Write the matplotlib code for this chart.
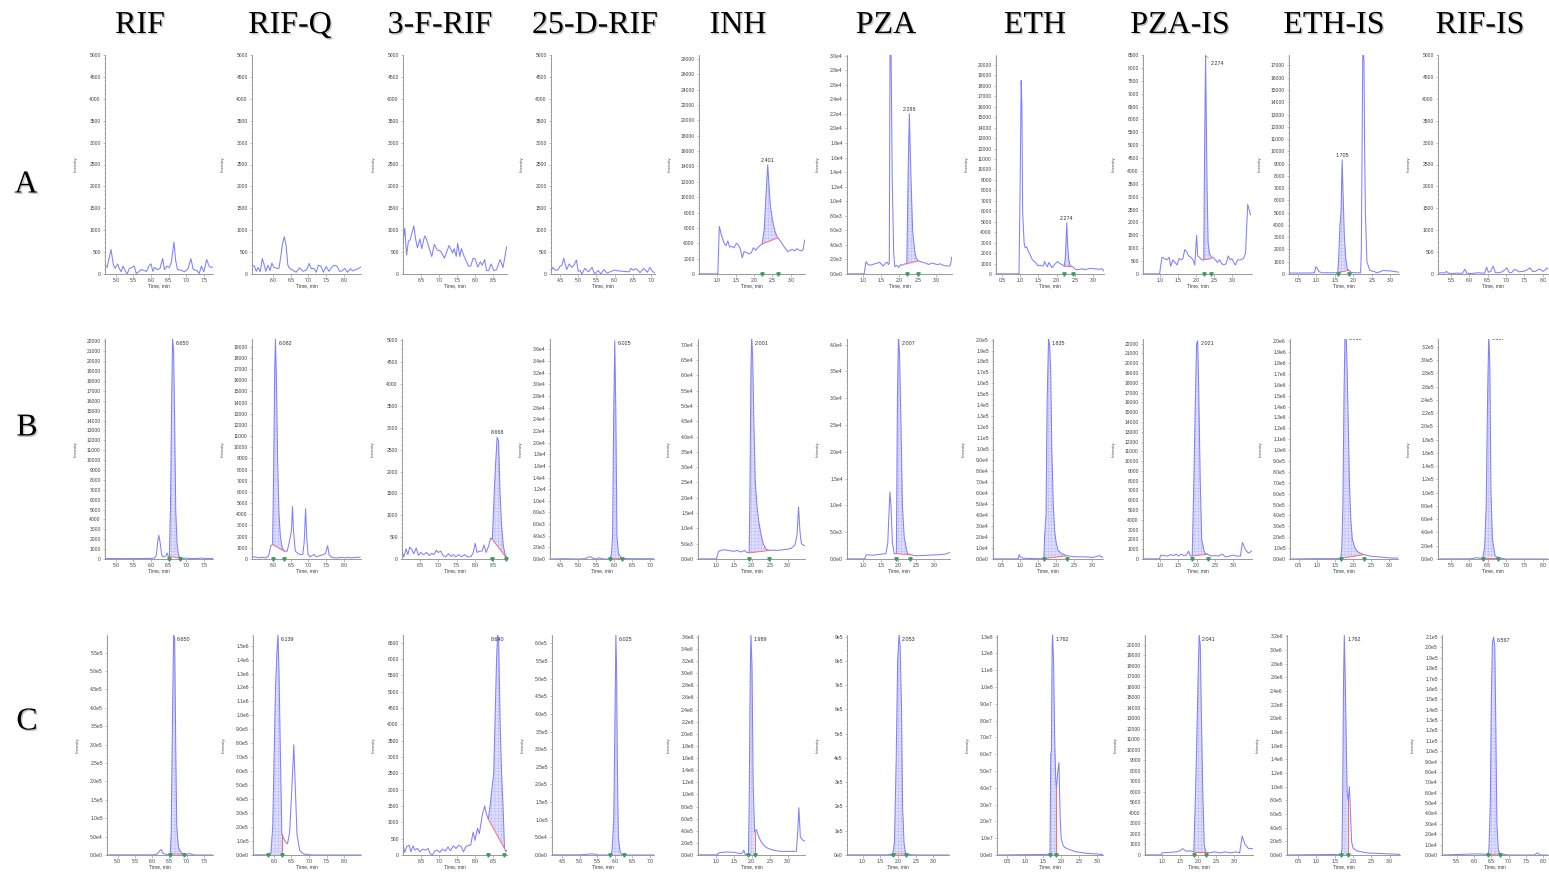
import numpy as np
import matplotlib
matplotlib.use('Agg')
import matplotlib.pyplot as plt
from matplotlib.ticker import FixedLocator, AutoMinorLocator, FuncFormatter
import matplotlib.patheffects as pe

plt.rcParams['font.family'] = ['Liberation Sans', 'DejaVu Sans']
plt.rcParams['hatch.linewidth'] = 0.3

COMPOUNDS = ['RIF', 'RIF-Q', '3-F-RIF', '25-D-RIF', 'INH', 'PZA', 'ETH', 'PZA-IS', 'ETH-IS', 'RIF-IS']
ROW_NAMES = ['A', 'B', 'C']

# ---------------- traces: (time [min], intensity) ----------------
A_RIF = [(4.70,200),(4.75,150),(4.86,560),(4.93,200),(4.98,130),(5.05,230),(5.10,120),(5.15,50),(5.20,180),
         (5.25,100),(5.32,0),(5.38,120),(5.45,150),(5.52,180),(5.58,10),(5.65,50),(5.72,100),(5.80,80),(5.87,60),
         (5.95,200),(6.00,230),(6.05,60),(6.10,150),(6.17,100),(6.25,120),(6.33,350),(6.38,100),(6.45,180),
         (6.52,150),(6.58,280),(6.65,730),(6.70,300),(6.75,100),(6.85,90),(6.95,50),(7.05,120),(7.13,350),
         (7.20,100),(7.30,80),(7.37,10),(7.43,180),(7.50,50),(7.58,330),(7.65,180),(7.70,150),(7.75,160)]
A_RIFQ = [(5.42,200),(5.48,180),(5.53,60),(5.58,150),(5.64,50),(5.70,350),(5.74,250),(5.80,60),(5.86,200),
          (5.92,80),(5.97,250),(6.03,150),(6.10,130),(6.17,130),(6.23,450),(6.27,700),(6.32,850),(6.37,650),
          (6.42,200),(6.47,130),(6.55,90),(6.65,40),(6.75,140),(6.85,60),(6.95,100),(7.02,240),(7.08,120),
          (7.15,130),(7.22,40),(7.28,200),(7.35,180),(7.42,40),(7.50,170),(7.58,60),(7.65,150),(7.72,200),
          (7.80,180),(7.88,60),(7.95,70),(8.02,130),(8.10,40),(8.18,120),(8.25,70),(8.32,100),(8.40,120),(8.47,160)]
A_3FRIF = [(6.00,700),(6.05,1050),(6.10,430),(6.15,750),(6.20,780),(6.30,1100),(6.35,800),(6.40,600),(6.47,800),
           (6.52,580),(6.60,870),(6.65,800),(6.72,600),(6.80,400),(6.87,680),(6.95,550),(7.05,520),(7.15,360),
           (7.28,650),(7.38,480),(7.42,580),(7.48,400),(7.52,700),(7.58,400),(7.62,580),(7.70,400),(7.82,180),
           (7.88,180),(7.95,360),(8.00,350),(8.08,160),(8.15,280),(8.20,200),(8.27,330),(8.32,80),(8.38,80),
           (8.45,230),(8.52,80),(8.60,100),(8.70,330),(8.78,150),(8.88,620)]
A_25DRIF = [(4.26,80),(4.30,150),(4.38,80),(4.45,100),(4.50,180),(4.55,200),(4.60,360),(4.68,100),(4.75,230),
            (4.82,150),(4.88,200),(4.95,320),(5.00,60),(5.05,80),(5.10,0),(5.18,130),(5.28,50),(5.38,150),
            (5.45,0),(5.55,80),(5.62,0),(5.70,100),(5.80,20),(5.90,60),(6.00,90),(6.10,70),(6.40,50),(6.45,130),
            (6.50,90),(6.60,120),(6.70,30),(6.80,130),(6.90,40),(6.97,150),(7.05,50),(7.10,30)]
A_INH = [(0.51,0),(0.95,0),(1.02,0),(1.06,6200),(1.12,5000),(1.19,4000),(1.24,3700),(1.29,4300),(1.34,3500),
         (1.40,3600),(1.46,3400),(1.52,4000),(1.57,3800),(1.63,3300),(1.68,2100),(1.73,2900),(1.80,2800),
         (1.87,2600),(1.93,2800),(1.98,3400),(2.04,3100),(2.10,3400),(2.16,3700),(2.22,3900),(2.28,6000),
         (2.32,10000),(2.37,14200),(2.40,12000),(2.44,9000),(2.50,7000),(2.57,5500),(2.64,4700),(2.70,4400),
         (2.78,3800),(2.85,3300),(2.92,2900),(2.98,3100),(3.04,3200),(3.10,3000),(3.16,3300),(3.22,3100),
         (3.28,3000),(3.33,3200),(3.37,4400)]
A_PZA = [(0.57,0),(1.00,0),(1.03,0),(1.08,1700),(1.14,1300),(1.20,1200),(1.26,1300),(1.32,1400),(1.39,1500),
         (1.46,1600),(1.51,1300),(1.56,1100),(1.61,1500),(1.66,1600),(1.70,1300),(1.72,1500),(1.74,30500),
         (1.77,30000),(1.80,13000),(1.84,3000),(1.87,1000),(1.93,1200),(1.98,900),(2.03,1300),(2.09,1200),
         (2.15,1400),(2.20,1400),(2.24,14800),(2.27,22000),(2.31,14000),(2.36,6000),(2.42,3000),(2.46,2200),
         (2.51,1800),(2.57,1700),(2.64,1600),(2.72,1500),(2.80,1300),(2.88,1500),(2.96,1400),(3.04,1300),
         (3.12,1400),(3.20,1200),(3.28,1100),(3.36,1100),(3.40,1300),(3.43,2300)]
A_ETH = [(0.35,0),(0.97,0),(1.00,8000),(1.03,18500),(1.05,16000),(1.07,6000),(1.11,3000),(1.14,2500),(1.18,2600),
         (1.22,2200),(1.28,1800),(1.33,1400),(1.38,1200),(1.43,1100),(1.48,800),(1.55,850),(1.60,750),(1.64,800),
         (1.67,1200),(1.71,900),(1.75,700),(1.79,1100),(1.83,900),(1.87,600),(1.92,800),(1.97,1000),(2.03,1200),
         (2.09,1000),(2.15,900),(2.21,750),(2.24,1500),(2.26,3200),(2.28,4900),(2.30,3000),(2.33,1500),(2.37,800),
         (2.44,700),(2.50,500),(2.55,400),(2.62,450),(2.70,500),(2.78,400),(2.86,500),(2.94,550),(3.02,500),
         (3.10,480),(3.18,450),(3.25,500),(3.29,300)]
A_PZAIS = [(0.54,0),(0.99,0),(1.02,300),(1.06,650),(1.12,600),(1.19,550),(1.26,650),(1.30,300),(1.36,550),
           (1.42,450),(1.48,350),(1.53,600),(1.58,550),(1.64,600),(1.69,950),(1.75,850),(1.80,700),(1.86,650),
           (1.92,550),(1.97,350),(2.02,1500),(2.05,700),(2.10,650),(2.16,550),(2.22,550),(2.24,4500),(2.27,8500),
           (2.29,6000),(2.31,3500),(2.34,1200),(2.38,800),(2.43,650),(2.48,650),(2.54,550),(2.60,450),(2.66,550),
           (2.72,400),(2.78,350),(2.84,400),(2.90,700),(2.95,550),(3.00,600),(3.05,450),(3.10,350),(3.16,550),
           (3.24,550),(3.32,600),(3.38,800),(3.44,2700),(3.48,2500),(3.52,2300)]
A_ETHIS = [(0.27,80),(0.50,80),(0.80,80),(0.95,100),(0.99,600),(1.03,450),(1.07,200),(1.15,100),(1.30,100),
           (1.45,100),(1.58,100),(1.61,1500),(1.64,4000),(1.67,5000),(1.70,9300),(1.73,6000),(1.76,3000),
           (1.80,1200),(1.84,400),(1.88,300),(1.95,120),(2.05,100),(2.20,100),(2.22,2000),(2.24,10000),
           (2.26,18500),(2.29,17500),(2.31,10000),(2.33,5000),(2.37,1000),(2.45,300),(2.56,200),(2.65,100),
           (2.74,200),(2.82,300),(2.92,250),(3.02,250),(3.12,200),(3.23,150)]
A_RIFIS = [(5.16,20),(5.26,30),(5.33,20),(5.38,60),(5.43,20),(5.55,10),(5.65,20),(5.75,15),(5.82,20),(5.88,110),
           (5.93,20),(6.05,10),(6.15,20),(6.25,30),(6.35,20),(6.42,20),(6.47,160),(6.52,40),(6.58,60),(6.65,180),
           (6.71,30),(6.80,30),(6.90,50),(6.97,100),(7.02,140),(7.08,40),(7.15,30),(7.22,100),(7.29,90),(7.35,50),
           (7.45,60),(7.55,80),(7.65,140),(7.72,60),(7.80,60),(7.87,100),(7.93,110),(8.00,60),(8.06,90),(8.11,140),
           (8.13,120)]

B_RIF = [(4.70,50),(5.00,40),(5.50,40),(5.80,50),(6.00,60),(6.10,100),(6.15,400),(6.19,1800),(6.22,2400),
         (6.26,1600),(6.30,400),(6.35,200),(6.42,300),(6.46,600),(6.49,200),(6.52,250),(6.55,5000),(6.58,14500),
         (6.61,22300),(6.64,21000),(6.67,14000),(6.70,5000),(6.74,1500),(6.78,400),(6.83,100),(6.90,60),
         (7.00,100),(7.10,50),(7.20,40),(7.30,50),(7.42,100),(7.50,60),(7.60,40),(7.75,50)]
B_RIFQ = [(5.42,150),(5.50,200),(5.60,100),(5.70,150),(5.80,100),(5.88,300),(5.94,1200),(5.99,1300),(6.02,8000),
          (6.05,17000),(6.07,19700),(6.10,16000),(6.13,9000),(6.17,4000),(6.21,2000),(6.26,1000),(6.32,700),
          (6.40,700),(6.46,1500),(6.52,2500),(6.55,4700),(6.58,2500),(6.63,700),(6.70,500),(6.78,400),(6.84,400),
          (6.88,1500),(6.92,4500),(6.95,2000),(6.99,400),(7.05,200),(7.10,300),(7.16,400),(7.22,200),(7.32,300),
          (7.42,400),(7.48,500),(7.54,1200),(7.58,400),(7.63,200),(7.72,100),(7.82,100),(7.92,150),(8.02,100),
          (8.12,150),(8.22,100),(8.35,150),(8.45,150)]
B_3FRIF = [(6.02,150),(6.06,50),(6.12,230),(6.17,100),(6.22,270),(6.28,220),(6.33,120),(6.40,250),(6.46,80),
           (6.52,150),(6.60,100),(6.68,150),(6.75,80),(6.82,130),(6.88,100),(6.95,200),(7.00,150),(7.07,180),
           (7.13,80),(7.20,50),(7.28,120),(7.35,60),(7.42,100),(7.48,50),(7.56,100),(7.64,50),(7.72,100),(7.80,50),
           (7.90,60),(7.96,150),(8.01,360),(8.06,150),(8.13,180),(8.20,180),(8.25,320),(8.31,150),(8.38,300),
           (8.43,480),(8.48,450),(8.53,1500),(8.57,2200),(8.61,2780),(8.65,2700),(8.69,1500),(8.73,800),(8.78,300),
           (8.84,50),(8.87,60)]
B_25DRIF = [(4.23,0),(4.60,50),(5.00,0),(5.20,50),(5.28,300),(5.35,400),(5.42,100),(5.50,0),(5.58,200),(5.65,100),
            (5.72,0),(5.89,0),(5.93,1000),(5.96,4000),(5.99,25000),(6.02,37500),(6.05,25000),(6.08,4000),
            (6.12,1000),(6.21,100),(6.40,50),(6.80,50),(7.10,50)]
B_INH = [(0.51,0),(1.00,0),(1.02,0),(1.08,2500),(1.20,3000),(1.30,2900),(1.40,2700),(1.50,2500),(1.60,2800),
         (1.70,2300),(1.80,2800),(1.86,2200),(1.93,2000),(1.95,20000),(1.98,62000),(2.00,73000),(2.03,65000),
         (2.06,45000),(2.10,25000),(2.15,17000),(2.20,12000),(2.26,8000),(2.32,5000),(2.40,3200),(2.49,2800),
         (2.60,2900),(2.70,2800),(2.85,3000),(3.00,3200),(3.10,3500),(3.20,4500),(3.26,8000),(3.30,17000),
         (3.34,9000),(3.38,5000),(3.44,4500),(3.47,4400)]
B_PZA = [(0.57,0),(1.00,0),(1.05,0),(1.10,800),(1.30,700),(1.50,900),(1.65,1000),(1.70,3000),(1.73,8000),
         (1.76,12500),(1.79,10000),(1.83,3000),(1.88,1000),(1.94,1000),(1.97,30000),(2.00,42000),(2.03,38000),
         (2.07,25000),(2.11,10000),(2.16,4000),(2.25,1000),(2.33,800),(2.50,600),(2.80,700),(3.10,800),
         (3.30,900),(3.43,1200)]
B_ETH = [(0.27,0),(0.95,0),(0.98,4000),(1.02,1500),(1.10,700),(1.30,500),(1.50,300),(1.66,300),(1.68,20000),
         (1.72,40000),(1.75,140000),(1.79,201000),(1.82,195000),(1.85,170000),(1.88,100000),(1.92,50000),
         (1.96,25000),(2.00,15000),(2.05,8000),(2.15,5000),(2.30,3000),(2.50,2000),(2.80,2000),(3.00,1500),
         (3.20,3000),(3.28,1500)]
B_PZAIS = [(0.54,0),(0.98,0),(1.02,400),(1.10,350),(1.20,300),(1.30,450),(1.38,350),(1.44,500),(1.50,300),
           (1.58,500),(1.65,350),(1.72,400),(1.78,800),(1.83,300),(1.88,300),(1.92,7000),(1.96,15000),
           (2.00,22000),(2.03,22300),(2.06,17000),(2.10,8000),(2.14,2000),(2.22,600),(2.30,500),(2.40,300),
           (2.50,350),(2.60,300),(2.70,500),(2.80,200),(2.90,300),(3.00,400),(3.10,300),(3.20,300),(3.26,1700),
           (3.33,1000),(3.42,600),(3.51,800)]
B_ETHIS = [(0.27,0),(1.00,3000),(1.50,3000),(1.66,5000),(1.69,100000),(1.72,500000),(1.75,1500000),
           (1.78,2100000),(1.81,2050000),(1.84,1700000),(1.87,1200000),(1.90,700000),(1.94,350000),(1.98,180000),
           (2.05,100000),(2.15,60000),(2.30,40000),(2.50,25000),(2.70,20000),(3.00,10000),(3.23,8000)]
B_RIFIS = [(5.16,0),(6.00,0),(6.20,2000),(6.30,1000),(6.37,2000),(6.42,20000),(6.46,80000),(6.50,250000),
           (6.53,340000),(6.56,290000),(6.59,100000),(6.63,30000),(6.70,5000),(6.78,2000),(7.00,0),(8.13,0)]

C_RIF = [(4.70,0),(6.05,0),(6.15,3000),(6.22,12000),(6.26,15000),(6.31,5000),(6.38,2000),(6.45,1000),(6.52,3000),
         (6.55,60000),(6.59,400000),(6.62,598000),(6.65,590000),(6.68,300000),(6.71,80000),(6.76,20000),
         (6.85,5000),(6.92,2000),(7.00,2000),(7.08,4000),(7.20,0),(7.75,0)]
C_RIFQ = [(5.42,0),(5.85,0),(5.92,20000),(5.97,200000),(6.01,700000),(6.05,1200000),(6.09,1450000),
          (6.12,1580000),(6.15,1300000),(6.19,700000),(6.23,150000),(6.28,120000),(6.34,90000),(6.39,80000),
          (6.45,160000),(6.51,450000),(6.57,790000),(6.61,500000),(6.66,150000),(6.74,30000),(6.85,8000),
          (7.00,2000),(7.15,0),(8.47,0)]
C_3FRIF = [(6.00,300),(6.05,80),(6.10,250),(6.17,300),(6.22,100),(6.28,280),(6.33,150),(6.40,200),(6.47,100),
           (6.55,180),(6.62,150),(6.70,200),(6.75,50),(6.82,0),(6.88,120),(6.95,150),(7.02,80),(7.10,180),
           (7.18,120),(7.25,250),(7.32,130),(7.40,280),(7.47,200),(7.55,300),(7.62,250),(7.68,100),(7.75,250),
           (7.82,300),(7.88,300),(7.95,700),(8.00,450),(8.07,820),(8.12,650),(8.20,1200),(8.27,1500),(8.32,1250),
           (8.37,1100),(8.42,1500),(8.47,2000),(8.52,2500),(8.56,4200),(8.60,6000),(8.63,6800),(8.66,6500),
           (8.70,4000),(8.74,2500),(8.78,1500),(8.82,200),(8.86,100),(8.89,150)]
C_25DRIF = [(4.23,0),(5.00,0),(5.30,3000),(5.40,3000),(5.50,500),(5.60,0),(5.87,0),(5.92,10000),(5.97,100000),
            (6.00,350000),(6.02,530000),(6.03,624000),(6.05,530000),(6.07,270000),(6.10,50000),(6.15,10000),
            (6.20,2000),(6.26,0),(6.40,0),(7.10,0)]
C_INH = [(0.51,0),(1.00,0),(1.03,0),(1.10,40000),(1.30,50000),(1.50,45000),(1.62,30000),(1.70,20000),
         (1.75,40000),(1.78,80000),(1.82,10000),(1.91,10000),(1.93,800000),(1.96,3000000),(1.98,3630000),
         (2.01,3100000),(2.04,1200000),(2.08,380000),(2.13,420000),(2.18,330000),(2.25,230000),(2.35,150000),
         (2.45,110000),(2.60,80000),(2.80,60000),(3.00,60000),(3.24,60000),(3.28,400000),(3.31,780000),
         (3.35,300000),(3.41,250000),(3.47,230000)]
C_PZA = [(0.57,0),(1.70,0),(1.75,3000),(1.80,2000),(1.85,5000),(1.90,50000),(1.95,400000),(1.99,800000),
         (2.03,907000),(2.06,860000),(2.10,600000),(2.13,200000),(2.17,50000),(2.21,10000),(2.24,3000),
         (2.40,1000),(2.60,0),(3.43,0)]
C_ETH = [(0.22,0),(1.00,200000),(1.50,300000),(1.66,500000),(1.69,1000000),(1.71,60000000),(1.73,62000000),
         (1.75,125000000),(1.762,131000000),(1.79,115000000),(1.82,70000000),(1.85,45000000),(1.87,40000000),
         (1.91,50000000),(1.94,55000000),(1.97,25000000),(2.00,10000000),(2.05,6000000),(2.10,4500000),
         (2.20,3500000),(2.40,2000000),(2.70,1000000),(3.00,600000),(3.16,300000)]
C_PZAIS = [(0.53,0),(0.98,0),(1.00,200),(1.20,250),(1.40,300),(1.50,400),(1.57,600),(1.65,400),(1.72,350),
           (1.78,400),(1.88,300),(1.93,6000),(1.97,12000),(2.00,17000),(2.03,20950),(2.06,20000),(2.09,13500),
           (2.13,6000),(2.17,1000),(2.21,300),(2.30,200),(2.45,300),(2.60,200),(2.75,300),(2.90,200),(3.05,300),
           (3.15,200),(3.22,1800),(3.30,1000),(3.40,600),(3.51,600)]
C_ETHIS = [(0.21,0),(1.00,5000),(1.50,8000),(1.68,10000),(1.70,100000),(1.72,1000000),(1.74,2500000),
           (1.762,3220000),(1.79,2500000),(1.82,1500000),(1.84,900000),(1.87,800000),(1.90,1000000),(1.93,600000),
           (1.96,200000),(2.00,100000),(2.10,60000),(2.40,30000),(2.80,20000),(3.27,10000)]
C_RIFIS = [(5.09,0),(6.00,1000),(6.20,1000),(6.40,500),(6.43,5000),(6.47,50000),(6.50,150000),(6.53,205000),
           (6.567,210000),(6.60,200000),(6.63,120000),(6.66,30000),(6.70,5000),(6.76,1000),(7.00,0),(7.75,0),
           (7.82,2000),(7.90,0),(8.12,0)]

# ---------------- integrated peaks: (start, end, baseline@start, baseline@end, drop-line) ----------------
A_PEAKS = [None, None, None, None, (2.22, 2.64, 3900, 4700, 0), (2.20, 2.51, 1400, 1800, 0),
           (2.21, 2.44, 750, 700, 0), (2.22, 2.43, 550, 600, 0), (1.58, 1.88, 100, 300, 0), None]
B_PEAKS = [(6.52, 6.83, 250, 100, 0), (5.99, 6.32, 1300, 700, 0), (8.48, 8.84, 450, 50, 0), (5.89, 6.21, 0, 100, 0),
           (1.93, 2.49, 2000, 2800, 0), (1.94, 2.33, 1000, 800, 0), (1.66, 2.30, 300, 3000, 0),
           (1.88, 2.30, 300, 500, 0), (1.66, 2.30, 5000, 40000, 0), (6.37, 6.78, 2000, 2000, 0)]
C_PEAKS = [(6.52, 6.92, 3000, 2000, 0), (5.85, 6.23, 0, 0, 1), (8.37, 8.82, 1100, 200, 0), (5.87, 6.26, 0, 0, 0),
           (1.91, 2.08, 0, 0, 1), (1.85, 2.24, 5000, 3000, 0), (1.69, 1.87, 0, 0, 1), (1.88, 2.21, 300, 300, 0),
           (1.68, 1.87, 0, 0, 1), (6.40, 6.76, 500, 1000, 0)]

A_LABELS = [None, None, None, None, '2.401', '2.288', '2.274', '2.274', '1.705', None]
B_LABELS = ['6.650', '6.082', '8.668', '6.025', '2.001', '2.007', '1.835', '2.021', '1.813', '6.557']
C_LABELS = ['6.650', '6.139', '8.640', '6.025', '1.989', '2.053', '1.762', '2.041', '1.762', '6.567']

# ---------------- axes scales: x-limits, x tick range, y top, y tick step, y tick max, label format ----------------
A_XLIM = [(4.69, 7.76), (5.41, 8.48), (6.0, 8.89), (4.25, 7.11), (0.51, 3.38), (0.56, 3.44), (0.34, 3.30),
          (0.53, 3.56), (0.26, 3.24), (5.15, 8.14)]
B_XLIM = [(4.69, 7.76), (5.41, 8.48), (6.01, 8.88), (4.22, 7.11), (0.51, 3.48), (0.56, 3.44), (0.26, 3.29),
          (0.53, 3.52), (0.26, 3.24), (5.15, 8.14)]
C_XLIM = [(4.69, 7.76), (5.41, 8.48), (6.0, 8.89), (4.22, 7.11), (0.51, 3.48), (0.56, 3.44), (0.21, 3.17),
          (0.53, 3.52), (0.20, 3.28), (5.08, 8.13)]
XTICK_RANGE = [(5.0, 7.5), (6.0, 8.0), (6.5, 8.5), (4.5, 7.0), (1.0, 3.0), (1.0, 3.0), (0.5, 3.0),
               (1.0, 3.0), (0.5, 3.0), (5.5, 8.0)]
A_Y = [(5000, 500, 5000, 'i'), (5000, 500, 5000, 'i'), (5000, 500, 5000, 'i'), (5000, 500, 5000, 'i'),
       (28500, 2000, 28000, 'i'), (30100, 2000, 30000, 'e'), (20950, 1000, 20000, 'i'), (8500, 500, 8500, 'i'),
       (17850, 1000, 17000, 'i'), (5000, 500, 5000, 'i')]
B_Y = [(22240, 1000, 22000, 'i'), (19700, 1000, 19000, 'i'), (5030, 500, 5000, 'i'), (37800, 2000, 36000, 'e'),
       (71850, 5000, 70000, 'e'), (41060, 5000, 40000, 'e'), (200500, 10000, 200000, 'e'),
       (22480, 1000, 22000, 'i'), (2020000, 100000, 2000000, 'e'), (332000, 20000, 320000, 'e')]
C_Y = [(598000, 50000, 550000, 'e'), (1576000, 100000, 1500000, 'e'), (6735, 500, 6500, 'i'),
       (624000, 50000, 600000, 'e'), (3630000, 200000, 3600000, 'e'), (907000, 100000, 900000, 'e0'),
       (1.31e8, 1e7, 1.3e8, 'e'), (20950, 1000, 20000, 'i'), (3.22e6, 2e5, 3.2e6, 'e'), (2.12e5, 1e4, 2.1e5, 'e')]

# ---------------- layout (pixels) ----------------
FIG_W, FIG_H = 1549, 873
ROW_TB = [(55, 274), (339, 559), (635, 855)]
COL_LR = [
    [(105, 213), (252, 361), (403, 507), (551, 655), (699, 805), (847, 952), (996, 1104), (1143, 1252), (1289, 1399), (1438, 1548)],
    [(105, 213), (252, 361), (402, 507), (550, 654), (698, 805), (847, 950), (993, 1103), (1143, 1252), (1290, 1398), (1438, 1548)],
    [(107, 213), (253, 361), (403, 507), (552, 654), (698, 805), (847, 949), (997, 1103), (1145, 1253), (1287, 1400), (1442, 1548)],
]
TITLE_X = [140, 290, 440, 595, 738, 886, 1035, 1180, 1334, 1480]
ROW_LABEL_POS = [(26, 185), (27, 428), (27, 722)]
LABEL_MODE = [
    ['', '', '', '', 'above', 'above', 'above', 'lead', 'above', ''],
    ['right', 'right', 'above', 'right', 'right', 'right', 'right', 'right', 'clip', 'clip'],
    ['right', 'right', 'center', 'right', 'right', 'right', 'right', 'right', 'right', 'right'],
]

TRACES = [[A_RIF, A_RIFQ, A_3FRIF, A_25DRIF, A_INH, A_PZA, A_ETH, A_PZAIS, A_ETHIS, A_RIFIS],
          [B_RIF, B_RIFQ, B_3FRIF, B_25DRIF, B_INH, B_PZA, B_ETH, B_PZAIS, B_ETHIS, B_RIFIS],
          [C_RIF, C_RIFQ, C_3FRIF, C_25DRIF, C_INH, C_PZA, C_ETH, C_PZAIS, C_ETHIS, C_RIFIS]]
PEAKS = [A_PEAKS, B_PEAKS, C_PEAKS]
LABELS = [A_LABELS, B_LABELS, C_LABELS]
XLIMS = [A_XLIM, B_XLIM, C_XLIM]
YCFG = [A_Y, B_Y, C_Y]

LINE_C = '#8080ff'
DARK_C = '#3434c0'
FILL_C = '#e0e0ff'
HATCH_C = '#b4b4f4'
RED_C = '#ff6a6a'
GREEN_C = '#3c9c5c'
TICK_FS = 3.6


def fmt_int(v, pos):
    return f"{int(round(v))}"


def fmt_e1(v, pos):
    if v <= 0:
        return "0.0e0"
    e = int(np.floor(np.log10(v) + 1e-9))
    return f"{v / 10 ** e:.1f}e{e}"


def fmt_e0(v, pos):
    if v <= 0:
        return "0e0"
    e = int(np.floor(np.log10(v) + 1e-9))
    return f"{v / 10 ** e:.0f}e{e}"


FMTS = {'i': fmt_int, 'e': fmt_e1, 'e0': fmt_e0}

fig = plt.figure(figsize=(FIG_W / 100, FIG_H / 100), dpi=100)
fig.patch.set_facecolor('white')


def px_rect(L, R, T, B):
    return [L / FIG_W, 1 - B / FIG_H, (R - L) / FIG_W, (B - T) / FIG_H]


for r in range(3):
    T, B = ROW_TB[r]
    for c in range(10):
        L, R = COL_LR[r][c]
        ax = fig.add_axes(px_rect(L, R, T, B))
        data = np.array(TRACES[r][c], dtype=float)
        t, y = data[:, 0], data[:, 1]
        x0, x1 = XLIMS[r][c]
        ytop, ystep, ymax, fmt = YCFG[r][c]

        peak = PEAKS[r][c]
        if peak is not None:
            s, e, b0, b1, drop = peak
            m = (t >= s - 1e-9) & (t <= e + 1e-9)
            tp, yp = t[m], y[m]
            base = b0 + (b1 - b0) * (tp - s) / (e - s)
            ax.fill_between(tp, yp, base, facecolor=FILL_C, edgecolor=HATCH_C, hatch='+++++',
                            linewidth=0, zorder=1)
            ax.plot([s, e], [b0, b1], color=RED_C, lw=0.7, zorder=3)
            if drop:
                ax.plot([e, e], [b1, yp[-1]], color=RED_C, lw=0.7, zorder=3)
            ax.plot([s, e], [0, 0], linestyle='none', marker='v', ms=2.4, color=GREEN_C,
                    clip_on=False, zorder=5)

        ax.plot(t, y, color=LINE_C, lw=0.75, zorder=2)
        # dark flat start segment
        nz = np.nonzero(y > 0)[0]
        if len(nz) and nz[0] > 1:
            k = nz[0]
            ax.plot(t[:k], y[:k], color=DARK_C, lw=0.9, zorder=2)

        ax.set_xlim(x0, x1)
        ax.set_ylim(0, ytop)
        xt0, xt1 = XTICK_RANGE[c]
        ax.xaxis.set_major_locator(FixedLocator(np.arange(xt0, xt1 + 0.01, 0.5)))
        ax.xaxis.set_major_formatter(FuncFormatter(lambda v, p: f"{v:.1f}"))
        ax.yaxis.set_major_locator(FixedLocator(np.arange(0, ymax + ystep / 2, ystep)))
        ax.yaxis.set_major_formatter(FuncFormatter(FMTS[fmt]))
        ax.xaxis.set_minor_locator(AutoMinorLocator(5))
        ax.yaxis.set_minor_locator(AutoMinorLocator(5))
        for sp in ['top', 'right']:
            ax.spines[sp].set_visible(False)
        for sp in ['left', 'bottom']:
            ax.spines[sp].set_color('#8c8c8c')
            ax.spines[sp].set_linewidth(0.6)
        ax.tick_params(which='major', length=1.8, width=0.4, color='#8c8c8c', labelsize=TICK_FS,
                       labelcolor='#404040', pad=1.2)
        ax.tick_params(which='minor', length=1.0, width=0.3, color='#a8a8a8')
        ax.set_facecolor('none')

        # retention-time label
        lab = LABELS[r][c]
        mode = LABEL_MODE[r][c]
        if lab and peak is not None:
            s, e = peak[0], peak[1]
            m = (t >= s - 1e-9) & (t <= e + 1e-9)
            k = np.argmax(np.where(m, y, -1))
            at, ay = t[k], min(y[k], ytop * 0.995)
            if mode == 'above':
                ax.annotate(lab, (at, ay), xytext=(0, 1.5), textcoords='offset points', ha='center',
                            va='bottom', fontsize=TICK_FS + 0.3, color='#303030', zorder=6)
            elif mode == 'center':
                ax.annotate(lab, (at, ay), xytext=(0, -0.5), textcoords='offset points', ha='center',
                            va='top', fontsize=TICK_FS + 0.3, color='#303030', zorder=6)
            elif mode == 'clip':
                ax.annotate(lab, (at, ytop), xytext=(2.5, 0), textcoords='offset points', ha='left',
                            va='center', fontsize=TICK_FS + 0.3, color='#303030', zorder=6,
                            annotation_clip=False, clip_on=True)
            elif mode == 'lead':
                ax.annotate(lab, (at, ay), xytext=(4, -5), textcoords='offset points', ha='left',
                            va='center', fontsize=TICK_FS + 0.3, color='#303030', zorder=6,
                            arrowprops=dict(arrowstyle='-', lw=0.35, color='#606060', shrinkA=0, shrinkB=0))
            else:
                ax.annotate(lab, (at, ay), xytext=(2.2, -0.5), textcoords='offset points', ha='left',
                            va='top', fontsize=TICK_FS + 0.3, color='#303030', zorder=6)

        # axis titles
        fig.text((L - 29) / FIG_W, 1 - ((T + B) / 2) / FIG_H, 'Intensity', rotation=90, ha='center',
                 va='center', fontsize=3.1, color='#505050')
        fig.text(((L + R) / 2) / FIG_W, 1 - (B + 12) / FIG_H, 'Time, min', ha='center', va='center',
                 fontsize=3.6, color='#404040')

shadow = [pe.withSimplePatchShadow(offset=(1.0, -1.0), shadow_rgbFace='#7a7a7a', alpha=0.45)]
for c, name in enumerate(COMPOUNDS):
    fig.text(TITLE_X[c] / FIG_W, 1 - 33 / FIG_H, name, ha='center', va='baseline',
             fontsize=23, family='Liberation Serif', color='black', path_effects=shadow)
for r, name in enumerate(ROW_NAMES):
    x, yy = ROW_LABEL_POS[r]
    fig.text(x / FIG_W, 1 - yy / FIG_H, name, ha='center', va='center', fontsize=23,
             family='Liberation Serif', color='black', path_effects=shadow)

fig.savefig('out.png', dpi=100, facecolor='white')
